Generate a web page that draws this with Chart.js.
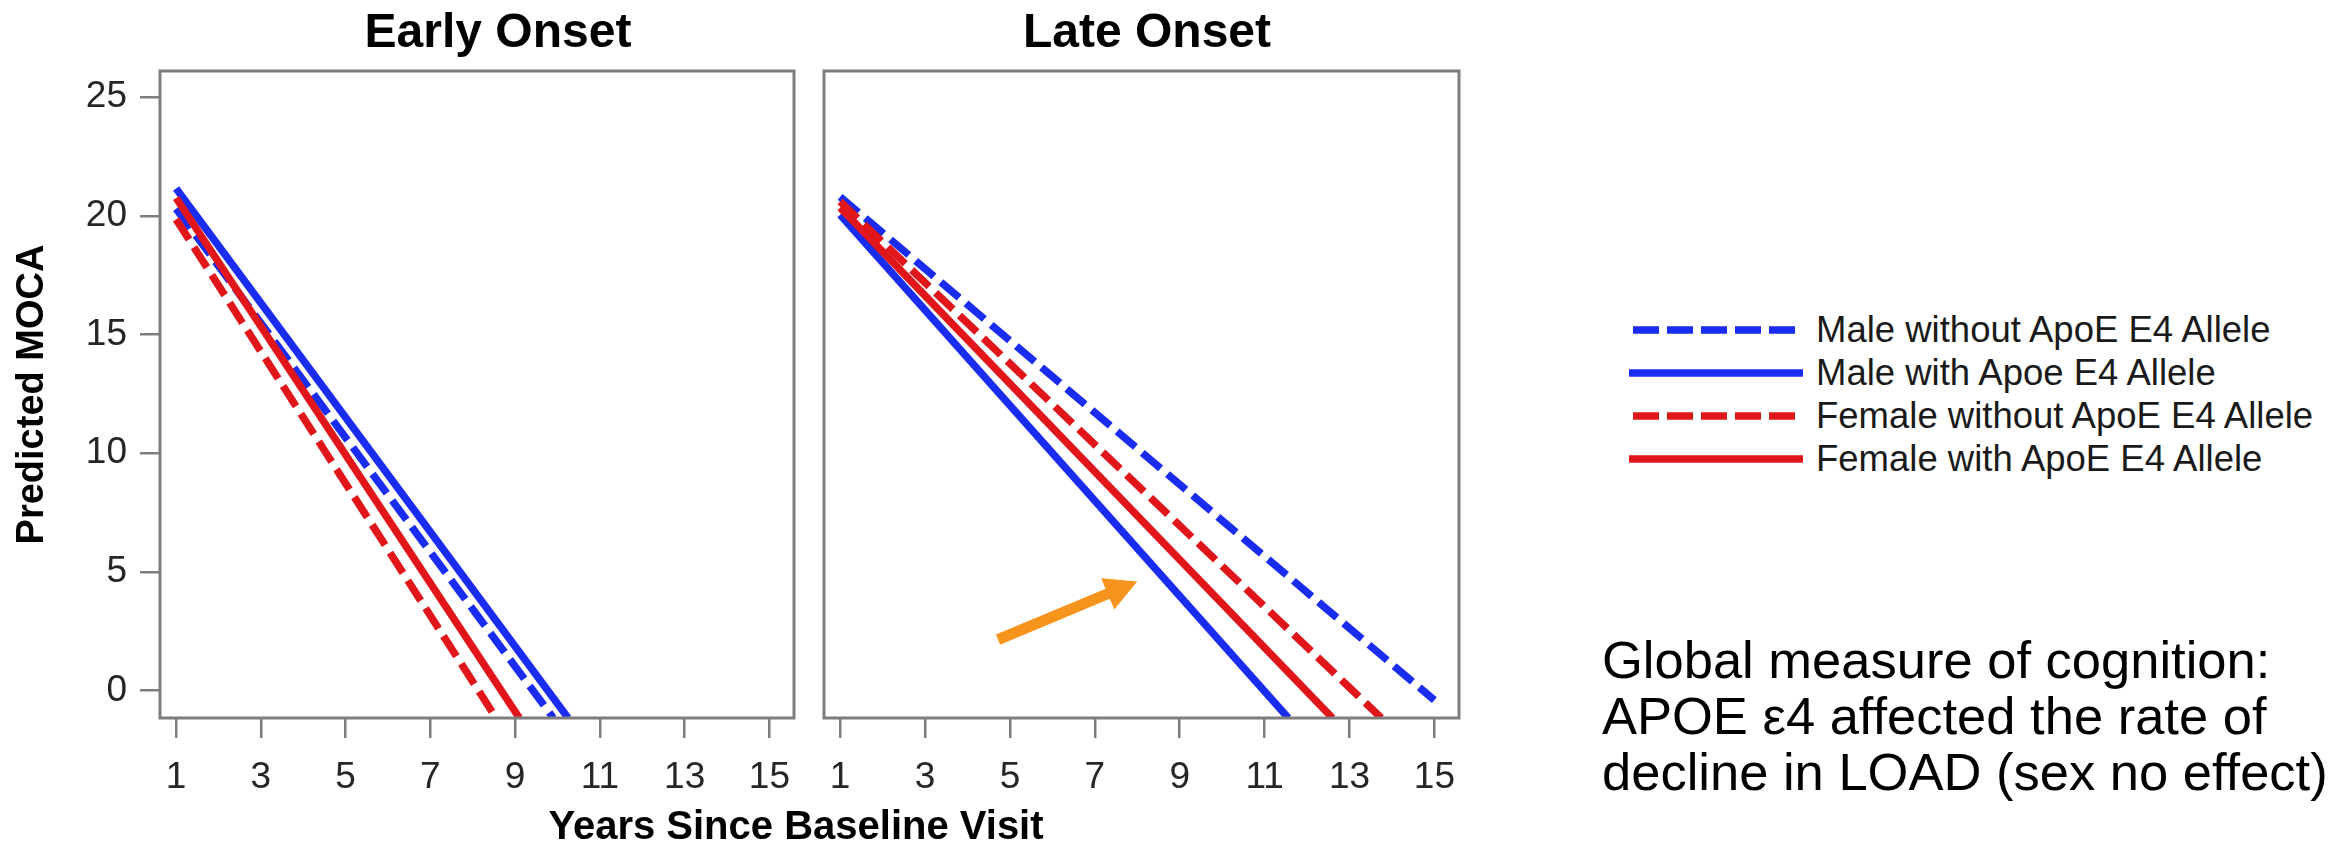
<!DOCTYPE html>
<html>
<head>
<meta charset="utf-8">
<title>Predicted MOCA</title>
<script src="https://cdn.jsdelivr.net/npm/chart.js@4.4.1/dist/chart.umd.min.js"></script>
<style>
  html, body { margin: 0; padding: 0; background: #fff; }
  body { width: 2341px; height: 843px; position: relative; overflow: hidden;
         font-family: "Liberation Sans", Arial, sans-serif; color: #000; }
  .panel { position: absolute; top: 0; height: 843px; }
  #earlyBox { left: 0; width: 996px; }
  #lateBox { left: 780px; width: 734px; }
  #xTitle { position: absolute; left: 496px; width: 600px; top: 801px; text-align: center;
            font-weight: bold; font-size: 40px; line-height: 48px; }
  #legend { position: absolute; left: 1629px; top: 308px; }
  .row { display: flex; align-items: center; height: 43px; }
  .row span { margin-left: 11px; font-size: 36.5px; line-height: 43px; color: #1a1a1a; white-space: nowrap; }
  #note { position: absolute; left: 1602px; top: 632px; font-size: 52.5px; line-height: 56px; white-space: nowrap; }
</style>
</head>
<body>
<div class="panel" id="earlyBox"><canvas id="earlyChart"></canvas></div>
<div class="panel" id="lateBox"><canvas id="lateChart"></canvas></div>
<div id="xTitle">Years Since Baseline Visit</div>
<div id="legend"></div>
<div id="note">Global measure of cognition:<br>APOE ε4 affected the rate of<br>decline in LOAD (sex no effect)</div>
<script>
const yearTicks = [1, 3, 5, 7, 9, 11, 13, 15];
const mocaTicks = [0, 5, 10, 15, 20, 25];

const seriesNames = [
    "Male without ApoE E4 Allele",
    "Male with Apoe E4 Allele",
    "Female without ApoE E4 Allele",
    "Female with ApoE E4 Allele",
];
const seriesColors = ["#1a2cf0", "#1a2cf0", "#e0161a", "#e0161a"];
const seriesDashed = [true, false, true, false];

// each line: year at baseline and year where it leaves the panel, MOCA at those years
const earlyYears = [[1, 9.9], [1, 10.25], [1, 8.55], [1, 9.1]];
const earlyMoca = [[20.3, -1.15], [21.15, -1.15], [19.85, -1.15], [20.75, -1.15]];
const lateYears = [[1, 15], [1, 11.56], [1, 13.75], [1, 12.6]];
const lateMoca = [[20.8, -0.4], [20.05, -1.15], [20.6, -1.15], [20.35, -1.15]];

// orange arrow in the late onset panel (years, MOCA)
const arrowFrom = [4.72, 2.15];
const arrowTo = [8.0, 4.6];

Chart.defaults.font.family = '"Liberation Sans", Arial, sans-serif';

const makeDatasets = (years, moca) =>
    seriesNames.map((name, i) => ({
        label: name,
        data: years[i].map((yr, j) => ({ x: yr, y: moca[i][j] })),
        borderColor: seriesColors[i],
        borderWidth: 7.5,
        borderDash: seriesDashed[i] ? [24, 9] : [],
        pointRadius: 0,
        clip: 0,
        order: seriesNames.length - i,
    }));

const panelTitle = {
    id: "panelTitle",
    afterDraw(chart, args, opts) {
        const ctx = chart.ctx;
        ctx.save();
        ctx.font = 'bold 48px "Liberation Sans", Arial, sans-serif';
        ctx.fillStyle = "#000";
        ctx.textAlign = "center";
        ctx.textBaseline = "alphabetic";
        ctx.fillText(opts.text, chart.width / 2, 47);
        ctx.restore();
    },
};

const panelBox = {
    id: "panelBox",
    afterDatasetsDraw(chart) {
        const { ctx, chartArea: a } = chart;
        ctx.save();
        ctx.strokeStyle = "#7d7d7d";
        ctx.lineWidth = 3;
        ctx.strokeRect(a.left, a.top, a.right - a.left, a.bottom - a.top);
        ctx.restore();
    },
};

const arrowNote = {
    id: "arrowNote",
    afterDatasetsDraw(chart) {
        const { ctx, scales } = chart;
        const x0 = scales.x.getPixelForValue(arrowFrom[0]);
        const y0 = scales.y.getPixelForValue(arrowFrom[1]);
        const x1 = scales.x.getPixelForValue(arrowTo[0]);
        const y1 = scales.y.getPixelForValue(arrowTo[1]);
        const ang = Math.atan2(y1 - y0, x1 - x0);
        const c = Math.cos(ang), s = Math.sin(ang);
        const head = 32, half = 17;
        const bx = x1 - head * c, by = y1 - head * s;
        ctx.save();
        ctx.strokeStyle = "#f7941d";
        ctx.fillStyle = "#f7941d";
        ctx.lineWidth = 11;
        ctx.beginPath();
        ctx.moveTo(x0, y0);
        ctx.lineTo(bx + 2 * c, by + 2 * s);
        ctx.stroke();
        ctx.beginPath();
        ctx.moveTo(x1, y1);
        ctx.lineTo(bx + half * s, by - half * c);
        ctx.lineTo(bx - half * s, by + half * c);
        ctx.closePath();
        ctx.fill();
        ctx.restore();
    },
};

const tickFont = { size: 37 };
const axisGray = "#7d7d7d";

const xScale = () => ({
    type: "linear",
    min: 0.62,
    max: 15.58,
    afterBuildTicks: (scale) => {
        scale.ticks = yearTicks.map((v) => ({ value: v }));
    },
    afterFit: (scale) => {
        scale.height = 125;
    },
    ticks: { font: tickFont, color: "#262626", padding: 18, autoSkip: false, maxRotation: 0, callback: (v) => String(v) },
    grid: { drawOnChartArea: false, drawTicks: true, tickLength: 20, color: axisGray, lineWidth: 2.5 },
    border: { display: false },
});

const yScale = (show) => ({
    type: "linear",
    display: show,
    min: -1.15,
    max: 26.1,
    afterBuildTicks: (scale) => {
        scale.ticks = mocaTicks.map((v) => ({ value: v }));
    },
    afterFit: (scale) => {
        if (show) scale.width = 160;
    },
    ticks: { font: tickFont, color: "#262626", padding: 13, callback: (v) => String(v) },
    grid: { drawOnChartArea: false, drawTicks: true, tickLength: 20, color: axisGray, lineWidth: 2.5 },
    border: { display: false },
    title: {
        display: show,
        text: "Predicted MOCA",
        color: "#000",
        font: { size: 38, weight: "bold" },
        padding: { top: 10, bottom: 0 },
    },
});

const renderPanel = (id, title, datasets, padding, showY, extra) => {
    const ctx = document.getElementById(id);
    return new Chart(ctx, {
        type: "line",
        data: { datasets: datasets },
        options: {
            responsive: true,
            maintainAspectRatio: false,
            animation: false,
            layout: { padding: padding },
            scales: { x: xScale(), y: yScale(showY) },
            plugins: {
                legend: { display: false },
                tooltip: { enabled: false },
                panelTitle: { text: title },
            },
        },
        plugins: [panelTitle, panelBox].concat(extra),
    });
};

const renderLegend = () => {
    const box = document.getElementById("legend");
    seriesNames.forEach((name, i) => {
        const row = document.createElement("div");
        row.className = "row";
        const dash = seriesDashed[i] ? 'stroke-dasharray="26 8"' : "";
        const x1 = seriesDashed[i] ? 4 : 0;
        const x2 = seriesDashed[i] ? 166 : 174;
        row.innerHTML =
            '<svg width="176" height="12"><line x1="' + x1 + '" y1="6" x2="' + x2 + '" y2="6" stroke="' +
            seriesColors[i] + '" stroke-width="7.5" ' + dash + "/></svg><span>" + name + "</span>";
        box.appendChild(row);
    });
};

renderPanel("earlyChart", "Early Onset", makeDatasets(earlyYears, earlyMoca),
    { top: 71, right: 202, bottom: 0, left: 0 }, true, []);
renderPanel("lateChart", "Late Onset", makeDatasets(lateYears, lateMoca),
    { top: 71, right: 55, bottom: 0, left: 44 }, false, [arrowNote]);
renderLegend();
</script>
</body>
</html>
